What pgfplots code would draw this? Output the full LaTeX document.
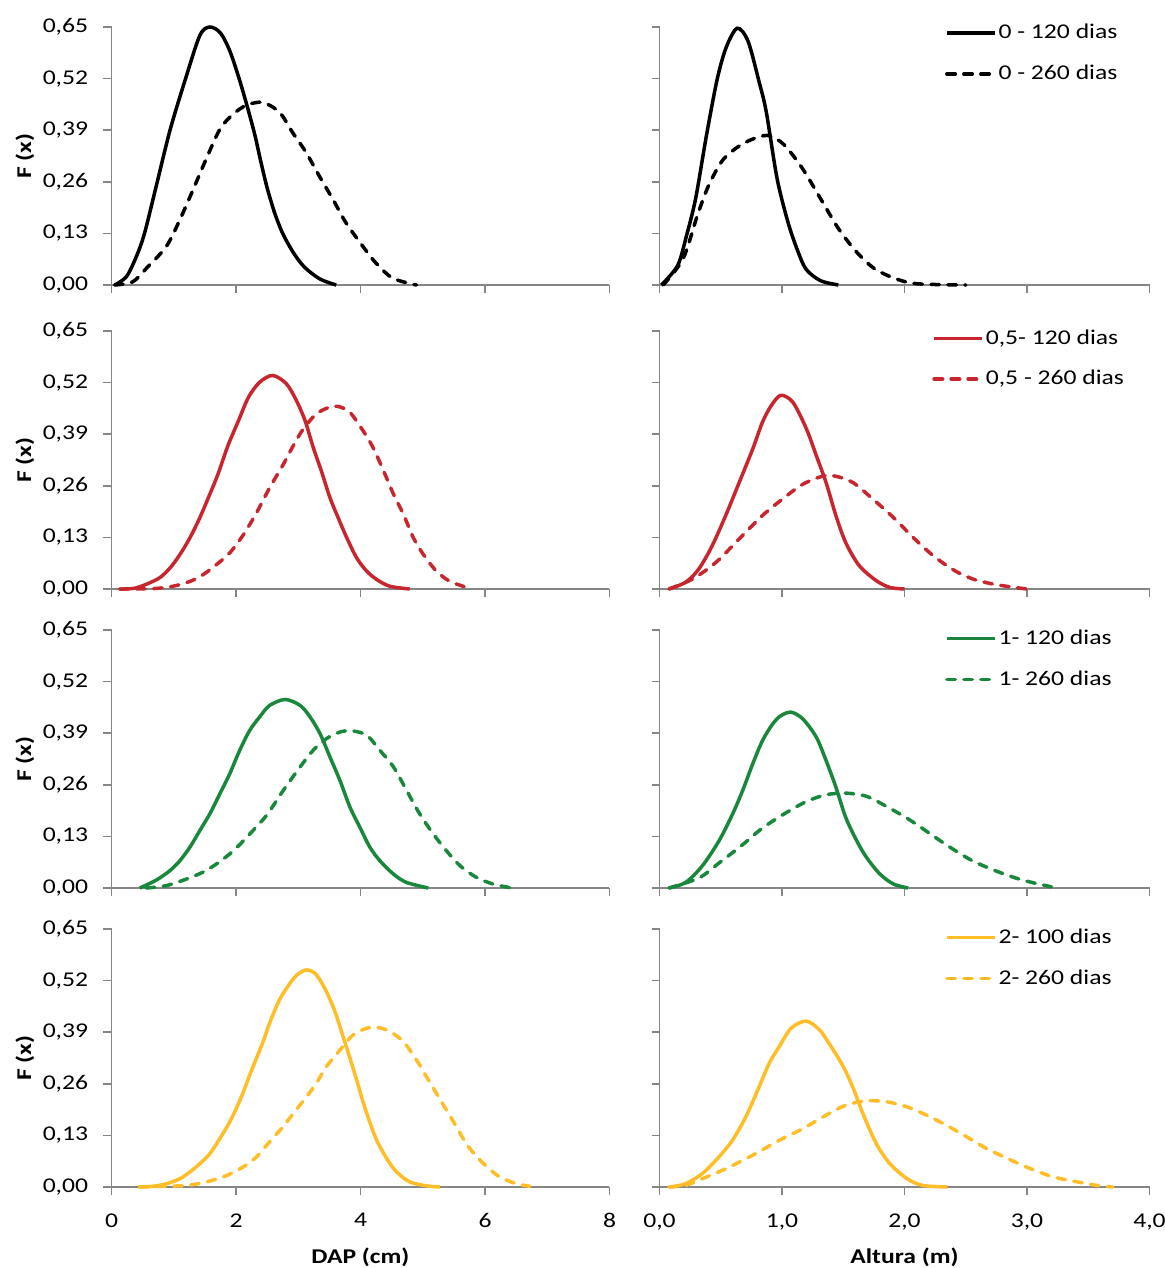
\documentclass[border=0pt]{standalone}
\usepackage{fontspec}
\setmainfont{Carlito}[FakeStretch=1.22]
\usepackage{pgfplots}
\pgfplotsset{compat=1.18}
\definecolor{axgray}{RGB}{134,134,134}
\definecolor{cred}{RGB}{200,38,46}
\definecolor{cgreen}{RGB}{25,135,60}
\definecolor{cgold}{RGB}{255,190,40}
\pgfplotsset{
  panel/.style={scale only axis, height=129bp, ymin=0, ymax=0.65,
    ytick={0,0.13,0.26,0.39,0.52,0.65},
    axis x line=bottom, axis y line=left,
    axis line style={-, draw=axgray, line width=0.75bp},
    tick align=outside, major tick length=4bp,
    tick style={draw=axgray, line width=0.75bp},
    /pgf/number format/assume math mode=true,
    yticklabel style={inner sep=0pt, anchor=east, xshift=-7.5bp,
      /pgf/number format/.cd, fixed, fixed zerofill, precision=2, use comma},
    xticklabel style={inner sep=0pt, anchor=north, yshift=-9bp},
    clip=false,
  },
  leftpanel/.style={panel, width=249bp, xmin=0, xmax=8, xtick={0,2,4,6,8},
    xticklabel style={/pgf/number format/.cd, fixed, precision=0},
    ylabel={\textbf{F (x)}},
    ylabel style={at={(axis description cs:-0.1737,0.5)}, anchor=center, inner sep=0pt}},
  rightpanel/.style={panel, width=245bp, xmin=0, xmax=4, xtick={0,1,2,3,4}, yticklabels={},
    xticklabel style={/pgf/number format/.cd, fixed, fixed zerofill, precision=1, use comma},
    legend cell align=left,
    legend image code/.code={\draw[##1] (0bp,0bp) -- (24bp,0bp);},
    legend style={draw=none, fill=none, inner sep=0pt, row sep=9.5bp,
      nodes={inner sep=1bp}}},
  notx/.style={xticklabels={}},
  s/.style={line width=1.75bp, smooth},
  d/.style={line width=1.75bp, smooth, dash pattern=on 4.25bp off 4.25bp, line cap=round},
}
\begin{document}
\fontsize{10.5bp}{12.6bp}\selectfont
\begin{tikzpicture}
\useasboundingbox (0,0) rectangle (582.5bp,-634bp);
% ---------------- Row 1 ----------------
\begin{axis}[leftpanel, notx, at={(55.75bp,-142.5bp)}, anchor=south west]
\addplot[s, black] coordinates {(0.05,0) (0.24,0.021) (0.40,0.072) (0.53,0.13) (0.72,0.25) (0.94,0.39) (1.19,0.52) (1.42,0.629) (1.58,0.65) (1.75,0.635) (1.90,0.59) (2.05,0.52) (2.18,0.45) (2.30,0.38) (2.40,0.31) (2.50,0.245) (2.62,0.182) (2.75,0.13) (2.92,0.082) (3.10,0.045) (3.35,0.015) (3.61,0)};
\addplot[d, black] coordinates {(0.05,0) (0.34,0.008) (0.56,0.042) (0.88,0.097) (1.10,0.165) (1.31,0.24) (1.52,0.317) (1.74,0.392) (1.95,0.43) (2.17,0.453) (2.43,0.46) (2.70,0.435) (2.91,0.384) (3.13,0.333) (3.34,0.274) (3.56,0.215) (3.77,0.156) (4.04,0.097) (4.25,0.055) (4.52,0.017) (4.90,0)};
\end{axis}
\begin{axis}[rightpanel, notx, at={(329.75bp,-142.5bp)}, anchor=south west,
  legend style={at={(axis description cs:0.582,1.02)}, anchor=north west}]
\addplot[s, black] coordinates {(0.015,0) (0.148,0.049) (0.221,0.125) (0.295,0.218) (0.384,0.378) (0.472,0.52) (0.546,0.60) (0.635,0.647) (0.723,0.614) (0.812,0.513) (0.871,0.437) (0.96,0.268) (1.048,0.159) (1.122,0.091) (1.196,0.04) (1.314,0.011) (1.46,0)};
\addlegendentry{0 - 120 dias}
\addplot[d, black] coordinates {(0.03,0) (0.192,0.066) (0.31,0.176) (0.40,0.25) (0.517,0.315) (0.664,0.353) (0.80,0.372) (0.90,0.376) (1.018,0.353) (1.166,0.294) (1.314,0.218) (1.461,0.142) (1.609,0.083) (1.756,0.041) (1.934,0.015) (2.11,0.003) (2.50,0)};
\addlegendentry{0 - 260 dias}
\end{axis}
% ---------------- Row 2 ----------------
\begin{axis}[leftpanel, notx, at={(55.75bp,-294.5bp)}, anchor=south west]
\addplot[s, cred] coordinates {(0.13,0) (0.40,0.003) (0.75,0.026) (0.94,0.053) (1.10,0.087) (1.26,0.129) (1.42,0.18) (1.58,0.239) (1.71,0.289) (1.87,0.361) (2.04,0.424) (2.20,0.483) (2.38,0.521) (2.59,0.538) (2.81,0.517) (2.97,0.475) (3.11,0.424) (3.24,0.357) (3.37,0.298) (3.51,0.23) (3.64,0.18) (3.78,0.129) (3.94,0.078) (4.10,0.045) (4.26,0.024) (4.47,0.007) (4.79,0)};
\addplot[d, cred] coordinates {(0.13,0) (0.67,0.001) (0.99,0.007) (1.26,0.019) (1.47,0.036) (1.69,0.062) (1.90,0.091) (2.12,0.137) (2.33,0.192) (2.54,0.255) (2.76,0.314) (2.92,0.361) (3.08,0.403) (3.29,0.441) (3.50,0.458) (3.64,0.46) (3.83,0.445) (4.04,0.399) (4.20,0.357) (4.37,0.298) (4.53,0.239) (4.69,0.188) (4.85,0.129) (5.01,0.087) (5.22,0.045) (5.44,0.019) (5.73,0.003)};
\end{axis}
\begin{axis}[rightpanel, notx, at={(329.75bp,-294.5bp)}, anchor=south west,
  legend style={at={(axis description cs:0.556,1.015)}, anchor=north west}]
\addplot[s, cred] coordinates {(0.077,0) (0.213,0.017) (0.32,0.05) (0.43,0.109) (0.54,0.185) (0.65,0.268) (0.76,0.352) (0.84,0.42) (0.91,0.461) (0.99,0.488) (1.09,0.47) (1.20,0.403) (1.28,0.336) (1.36,0.268) (1.44,0.185) (1.52,0.117) (1.63,0.059) (1.77,0.021) (1.88,0.004) (2.0,0)};
\addlegendentry{0,5- 120 dias}
\addplot[d, cred] coordinates {(0.077,0) (0.27,0.025) (0.46,0.067) (0.65,0.126) (0.84,0.185) (1.005,0.227) (1.17,0.264) (1.33,0.284) (1.44,0.284) (1.58,0.268) (1.74,0.227) (1.91,0.18) (2.07,0.13) (2.23,0.085) (2.40,0.048) (2.56,0.025) (2.73,0.012) (2.90,0.004) (3.0,0)};
\addlegendentry{0,5 - 260 dias}
\end{axis}
% ---------------- Row 3 ----------------
\begin{axis}[leftpanel, notx, at={(55.75bp,-444bp)}, anchor=south west]
\addplot[s, cgreen] coordinates {(0.455,0) (0.72,0.02) (0.94,0.044) (1.10,0.069) (1.26,0.103) (1.42,0.145) (1.58,0.187) (1.74,0.237) (1.90,0.288) (2.06,0.347) (2.22,0.397) (2.38,0.431) (2.54,0.46) (2.79,0.475) (3.03,0.46) (3.19,0.431) (3.35,0.389) (3.51,0.33) (3.67,0.271) (3.83,0.204) (3.99,0.153) (4.15,0.103) (4.31,0.069) (4.53,0.035) (4.74,0.014) (5.09,0)};
\addplot[d, cgreen] coordinates {(0.56,0) (0.88,0.006) (1.21,0.023) (1.47,0.04) (1.69,0.061) (1.96,0.094) (2.22,0.136) (2.49,0.183) (2.76,0.246) (3.03,0.305) (3.24,0.347) (3.45,0.376) (3.67,0.393) (3.86,0.396) (4.10,0.385) (4.31,0.347) (4.53,0.305) (4.74,0.246) (4.95,0.187) (5.17,0.136) (5.38,0.094) (5.60,0.056) (5.86,0.027) (6.13,0.01) (6.43,0)};
\end{axis}
\begin{axis}[rightpanel, notx, at={(329.75bp,-444bp)}, anchor=south west,
  legend style={at={(axis description cs:0.582,1.01)}, anchor=north west}]
\addplot[s, cgreen] coordinates {(0.077,0) (0.213,0.014) (0.35,0.056) (0.486,0.119) (0.596,0.186) (0.678,0.245) (0.76,0.312) (0.84,0.371) (0.923,0.413) (0.99,0.434) (1.074,0.443) (1.17,0.426) (1.28,0.38) (1.36,0.321) (1.44,0.254) (1.52,0.178) (1.61,0.119) (1.69,0.077) (1.80,0.035) (1.91,0.01) (2.03,0)};
\addlegendentry{1- 120 dias}
\addplot[d, cgreen] coordinates {(0.077,0) (0.32,0.025) (0.486,0.063) (0.678,0.109) (0.84,0.151) (1.03,0.189) (1.20,0.218) (1.36,0.235) (1.52,0.239) (1.69,0.231) (1.85,0.206) (2.02,0.176) (2.18,0.143) (2.34,0.109) (2.54,0.071) (2.73,0.045) (2.92,0.024) (3.08,0.011) (3.20,0.003)};
\addlegendentry{1- 260 dias}
\end{axis}
% ---------------- Row 4 ----------------
\begin{axis}[leftpanel, at={(55.75bp,-593.5bp)}, anchor=south west,
  xlabel={\textbf{DAP (cm)}}, xlabel style={at={(axis description cs:0.5,0)}, anchor=center, yshift=-35bp}]
\addplot[s, cgold] coordinates {(0.43,0) (0.67,0.002) (0.88,0.008) (1.10,0.021) (1.26,0.038) (1.42,0.059) (1.58,0.084) (1.74,0.122) (1.90,0.164) (2.01,0.20) (2.12,0.24) (2.22,0.282) (2.33,0.325) (2.44,0.368) (2.54,0.413) (2.70,0.472) (2.87,0.514) (3.00,0.537) (3.14,0.547) (3.29,0.535) (3.45,0.493) (3.59,0.442) (3.72,0.379) (3.83,0.325) (3.94,0.269) (4.04,0.215) (4.15,0.163) (4.26,0.118) (4.42,0.072) (4.58,0.038) (4.79,0.013) (5.06,0.003) (5.28,0)};
\addplot[d, cgold] coordinates {(0.455,0) (0.88,0.002) (1.21,0.004) (1.53,0.013) (1.85,0.029) (2.12,0.051) (2.33,0.076) (2.54,0.114) (2.73,0.147) (2.92,0.185) (3.13,0.227) (3.29,0.261) (3.45,0.303) (3.67,0.345) (3.88,0.383) (4.10,0.40) (4.28,0.402) (4.47,0.392) (4.69,0.366) (4.90,0.32) (5.06,0.278) (5.22,0.236) (5.38,0.194) (5.54,0.152) (5.70,0.109) (5.87,0.076) (6.03,0.051) (6.24,0.025) (6.51,0.008) (6.72,0.002)};
\end{axis}
\begin{axis}[rightpanel, at={(329.75bp,-593.5bp)}, anchor=south west,
  xlabel={\textbf{Altura (m)}}, xlabel style={at={(axis description cs:0.5,0)}, anchor=center, yshift=-35bp},
  legend style={at={(axis description cs:0.582,1.01)}, anchor=north west}]
\addplot[s, cgold] coordinates {(0.077,0) (0.21,0.008) (0.35,0.034) (0.486,0.076) (0.596,0.118) (0.705,0.177) (0.814,0.253) (0.896,0.312) (0.978,0.354) (1.074,0.40) (1.197,0.418) (1.306,0.396) (1.388,0.36) (1.497,0.305) (1.58,0.25) (1.66,0.185) (1.77,0.109) (1.88,0.059) (2.02,0.021) (2.15,0.004) (2.35,0)};
\addlegendentry{2- 100 dias}
\addplot[d, cgold] coordinates {(0.077,0) (0.21,0.004) (0.35,0.021) (0.54,0.046) (0.76,0.08) (0.98,0.118) (1.17,0.147) (1.36,0.181) (1.52,0.206) (1.69,0.217) (1.85,0.215) (2.02,0.202) (2.18,0.181) (2.34,0.156) (2.51,0.126) (2.67,0.097) (2.84,0.072) (3.03,0.046) (3.22,0.025) (3.41,0.013) (3.57,0.004) (3.70,0)};
\addlegendentry{2- 260 dias}
\end{axis}
\end{tikzpicture}
\end{document}
